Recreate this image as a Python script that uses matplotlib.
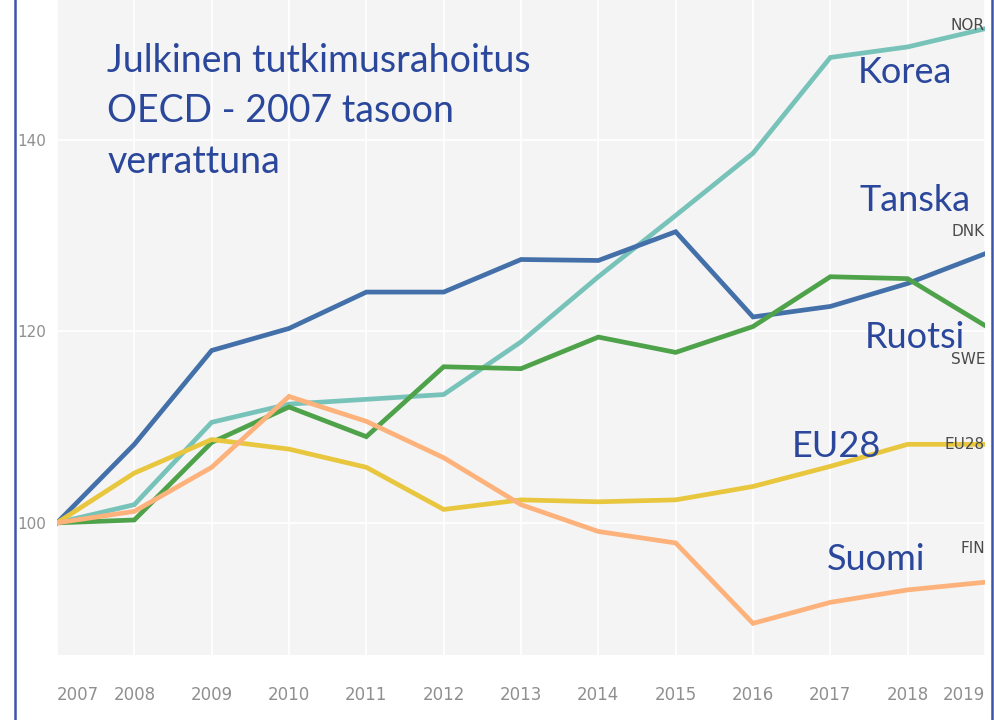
import matplotlib.pyplot as plt
from matplotlib.lines import Line2D

plt.rcParams['font.family'] = ['DejaVu Sans']

# data: public research funding, index 2007 = 100
years = list(range(2007, 2020))
codes = ['NOR', 'DNK', 'SWE', 'EU28', 'FIN']
names = ['Korea', 'Tanska', 'Ruotsi', 'EU28', 'Suomi']

nor = [100, 101.9, 110.5, 112.4, 112.9, 113.4, 118.9, 125.7, 132.1, 138.6, 148.6, 149.7, 151.6]
dnk = [100, 108.2, 118.0, 120.3, 124.1, 124.1, 127.5, 127.4, 130.4, 121.5, 122.6, 125.0, 128.1]
swe = [100, 100.3, 108.4, 112.1, 109.0, 116.3, 116.1, 119.4, 117.8, 120.5, 125.7, 125.5, 120.6]
eu28 = [100, 105.2, 108.7, 107.7, 105.8, 101.4, 102.4, 102.2, 102.4, 103.8, 105.9, 108.2, 108.2]
fin = [100, 101.2, 105.8, 113.2, 110.6, 106.8, 101.9, 99.1, 97.9, 89.5, 91.7, 93.0, 93.8]

series = [nor, dnk, swe, eu28, fin]
colors = ['#77c3ba', '#4470aa', '#4ea24a', '#e8c63d', '#fdb27b']

# end-code label offsets (value units from the last point)
code_dy = [0.3, 2.3, -3.5, 0.0, 3.5]
# blue annotations: (x in years, y in value)
ann_pos = [(2017.35, 147.0), (2017.38, 133.7), (2017.45, 119.4), (2016.5, 108.0), (2016.95, 96.2)]

fig = plt.figure(figsize=(9.95, 7.2), dpi=100)
ax = fig.add_axes([57 / 995, 1 - 655 / 720, (985 - 57) / 995, 655 / 720])
ax.set_facecolor('#f4f4f4')

for vals, c in zip(series, colors):
    ax.plot(years, vals, color=c, lw=3.4, solid_joinstyle='miter', zorder=3)

ax.set_xlim(2007, 2019)
ax.set_ylim(86.2, 154.6)

ax.set_yticks([100, 120, 140])
ax.set_xticks(years)
ax.grid(True, color='white', lw=1.2, zorder=1)
ax.set_axisbelow(True)
for s in ax.spines.values():
    s.set_visible(False)
ax.tick_params(axis='both', length=0, colors='#8f8f8f', labelsize=12)
ax.tick_params(axis='y', pad=8, labelsize=11)
ax.tick_params(axis='x', pad=22)
xl = ax.get_xticklabels()
xl[0].set_ha('left')
xl[-1].set_ha('right')

for vals, code, dy in zip(series, codes, code_dy):
    ax.text(2019, vals[-1] + dy, code, ha='right', va='center', fontsize=11,
            color='#4a4a4a', zorder=4)

blue = '#2a479c'
for name, (x, y) in zip(names, ann_pos):
    ax.text(x, y, name, ha='left', va='center', fontsize=26, color=blue,
            family=['Lato', 'DejaVu Sans'], zorder=5)

ax.text(2007.65, 143.0, 'Julkinen tutkimusrahoitus\nOECD - 2007 tasoon\nverrattuna',
        ha='left', va='center', fontsize=27, color=blue, linespacing=1.5,
        family=['Lato', 'DejaVu Sans'], zorder=5)

# frame lines of the slide
fig.add_artist(Line2D([15 / 995, 15 / 995], [0, 1], color='#3a56a8', lw=1.8))
fig.add_artist(Line2D([992 / 995, 992 / 995], [0, 1], color='#3a56a8', lw=1.8))

fig.savefig('out.png', dpi=100)
